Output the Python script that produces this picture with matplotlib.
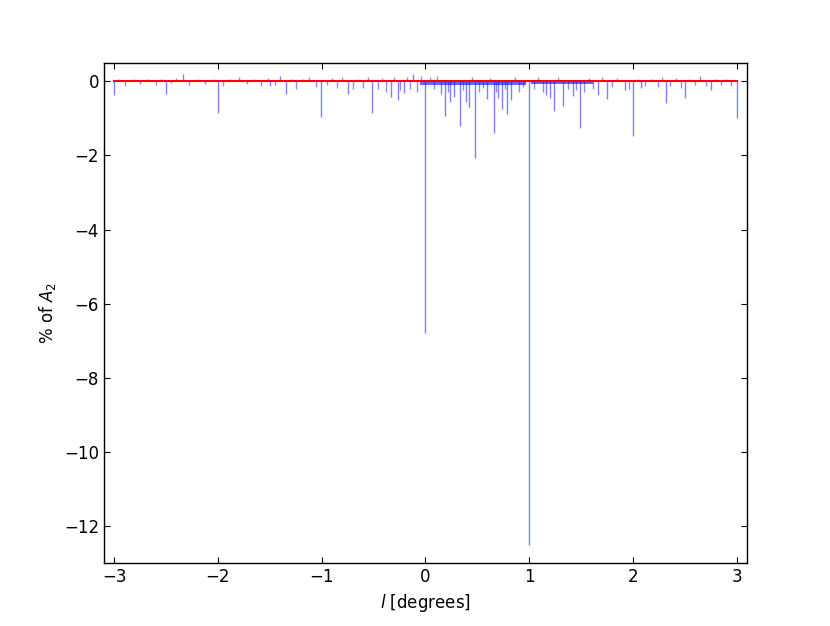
import numpy as np
from matplotlib import pyplot as plt

# large spikes (l in degrees, % of A2)
spike_l = [-3.0, -2.5, -2.34, -2.0, -1.5, -1.34, -1.4, -1.01, -0.75, -0.51, -0.33, -0.26, -0.21,
           -0.12, 0.0, 0.15, 0.19, 0.24, 0.28, 0.33, 0.39, 0.42, 0.48, 0.59, 0.66, 0.70,
           0.74, 0.79, 0.83, 1.0, 1.16, 1.2, 1.24, 1.33, 1.42, 1.49, 1.66, 1.75, 1.92,
           2.0, 2.08, 2.32, 2.5, 2.75, 3.0]
spike_val = [-0.37, -0.35, 0.19, -0.85, -0.12, -0.35, 0.14, -0.96, -0.35, -0.86, -0.43, -0.51, -0.33,
             0.2, -6.78, -0.35, -0.94, -0.57, -0.43, -1.21, -0.57, -0.70, -2.08, -0.49, -1.41, -0.46,
             -0.76, -0.89, -0.52, -12.5, -0.38, -0.46, -0.81, -0.67, -0.40, -1.27, -0.38, -0.49, -0.24,
             -1.48, -0.19, -0.59, -0.46, -0.25, -1.0]

# small fluctuations around zero
small_l = [-2.95, -2.9, -2.82, -2.75, -2.68, -2.6, -2.55, -2.45, -2.4, -2.28, -2.2, -2.12, -2.05,
           -1.95, -1.88, -1.8, -1.72, -1.65, -1.58, -1.52, -1.45, -1.3, -1.25, -1.18, -1.12,
           -1.05, -0.95, -0.9, -0.85, -0.8, -0.7, -0.66, -0.6, -0.55, -0.46, -0.42, -0.38,
           -0.3, -0.24, -0.18, -0.15, -0.08, -0.04, 0.04, 0.08, 0.11, 0.22, 0.36, 0.45, 0.52,
           0.56, 0.62, 0.68, 0.77, 0.86, 0.9, 0.94, 1.05, 1.09, 1.13, 1.28, 1.37, 1.45,
           1.53, 1.58, 1.62, 1.7, 1.8, 1.85, 1.96, 2.04, 2.12, 2.18, 2.24, 2.28, 2.36, 2.42,
           2.46, 2.55, 2.6, 2.65, 2.7, 2.8, 2.85, 2.9, 2.95]
small_val = [0.06, -0.12, 0.05, -0.08, 0.07, -0.1, 0.06, -0.06, 0.08, -0.1, 0.05, -0.08, 0.06,
             -0.12, 0.07, 0.12, -0.07, 0.05, -0.14, 0.08, -0.1, 0.06, -0.2, 0.05, 0.1,
             -0.15, -0.1, 0.08, -0.18, 0.1, -0.22, 0.06, -0.18, 0.1, -0.2, 0.08, -0.3,
             0.1, -0.25, 0.12, -0.2, -0.3, 0.15, 0.1, -0.2, 0.15, -0.3, -0.25, 0.1, -0.3,
             -0.18, 0.08, -0.3, -0.22, 0.1, -0.3, -0.15, -0.22, 0.1, -0.3, 0.12, -0.2, -0.25,
             -0.3, 0.08, -0.2, 0.1, -0.15, 0.08, -0.2, 0.06, -0.12, 0.06, -0.15, 0.1, -0.12, 0.08,
             -0.18, 0.07, -0.1, 0.14, -0.12, 0.06, -0.1, 0.07, -0.12]

# dense dark band just under zero
band_start = [-0.05, 1.02]
band_end = [0.97, 1.62]
band_depth = [-0.1, -0.07]

line_l = [-3.0, 3.0]
line_val = [0.0, 0.0]

plt.rcParams['xtick.direction'] = 'in'
plt.rcParams['ytick.direction'] = 'in'
plt.rcParams['xtick.top'] = True
plt.rcParams['ytick.right'] = True
plt.rcParams['xtick.major.size'] = 4
plt.rcParams['ytick.major.size'] = 4
plt.rcParams['axes.linewidth'] = 1.0
plt.rcParams['font.size'] = 12

fig = plt.figure(figsize=(8.3, 6.26), dpi=100)
ax = fig.add_axes([0.125, 0.1, 0.775, 0.8])

ax.plot(line_l, line_val, 'k-', linewidth=0.5)
ax.vlines(small_l, 0, small_val, color='b', alpha=0.45, linewidth=1)
for i in range(len(band_start)):
  ax.fill_between([band_start[i], band_end[i]], 0, band_depth[i], color='b', alpha=0.6, linewidth=0)
ax.vlines(spike_l, 0, spike_val, color='b', alpha=0.5, linewidth=1)
ax.plot(line_l, line_val, 'r-', linewidth=1.5)

ax.set_xlim(-3.1, 3.1)
ax.set_ylim(-13, 0.5)
ax.set_yticks([0, -2, -4, -6, -8, -10, -12])
ax.set_xlabel('$l$ [degrees]')
ax.set_ylabel('% of $A_2$')

plt.savefig('out.png', dpi=100)
